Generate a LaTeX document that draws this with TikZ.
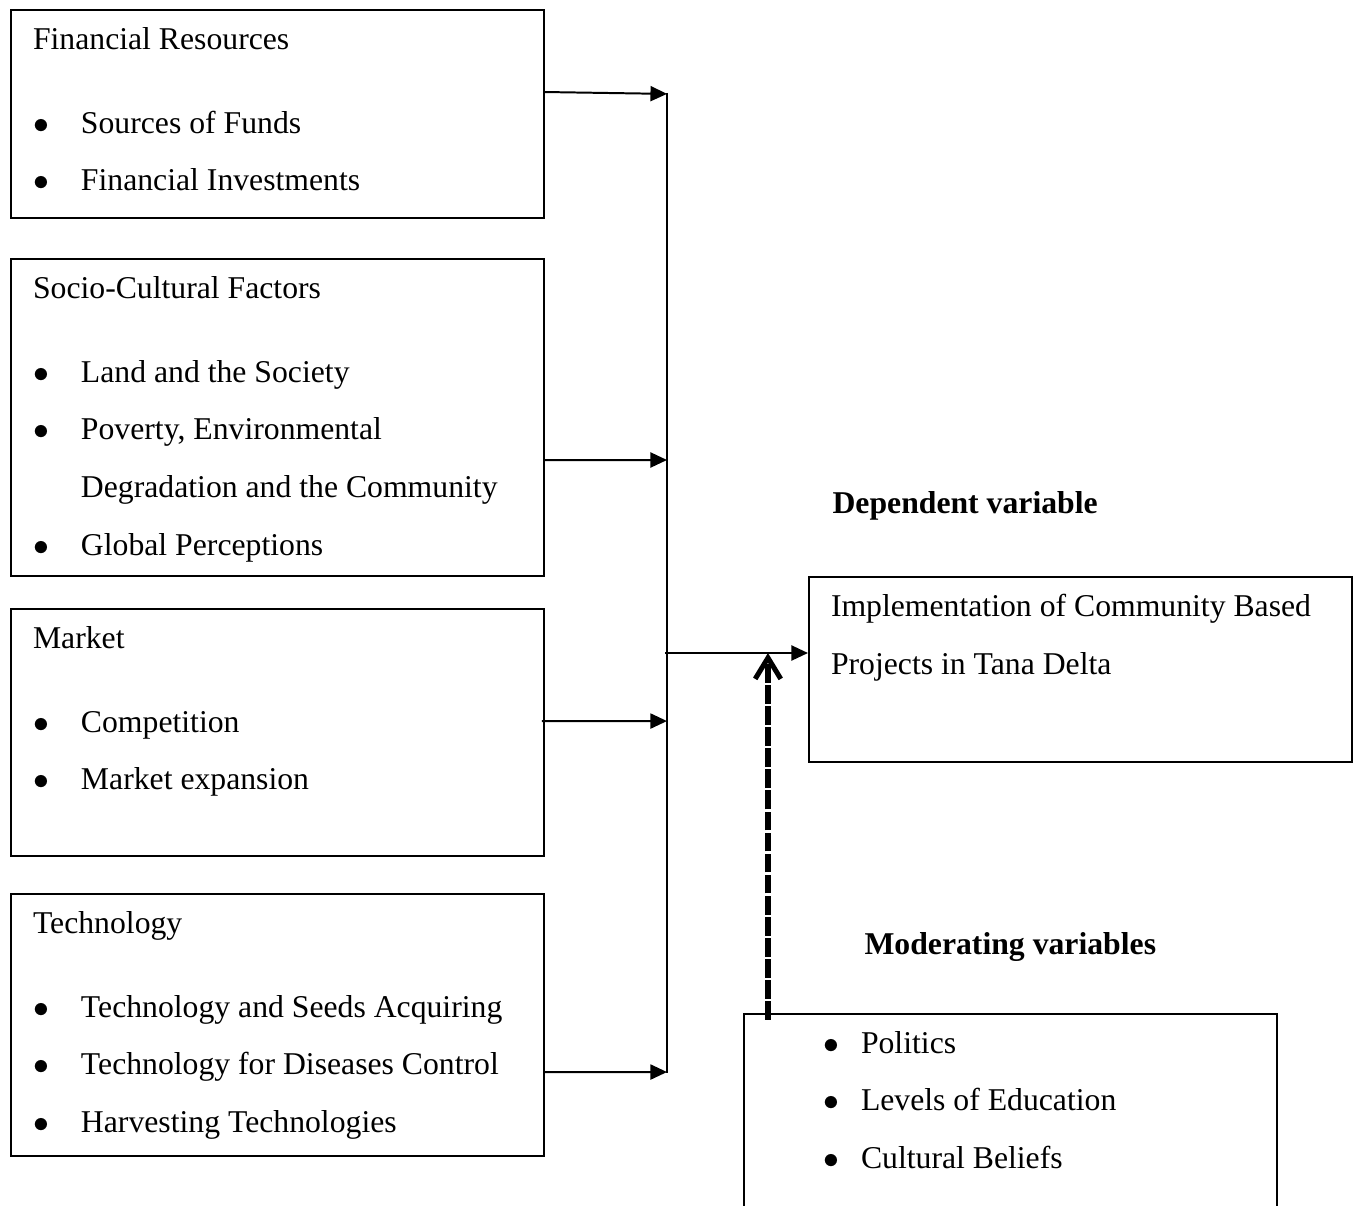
\documentclass[tikz,border=0pt]{standalone}
\usepackage{fontspec}
\setmainfont{Liberation Serif}
\usetikzlibrary{arrows.meta, positioning}
\tikzset{
    arrow/.style={-{Triangle[length=2.2mm,width=2mm]}, line width=0.75pt},
    modarrow/.style={-{Straight Barb[length=2.8mm,width=3.4mm]}, line width=1.9pt, dash pattern=on 2.5mm off 0.3mm},
}
\newcommand{\itm}{\makebox[0.638cm][l]{$\bullet$}}
\newcommand{\mitm}{\hspace*{0.77cm}\makebox[0.493cm][l]{$\bullet$}}
\newcommand{\boxtext}[3]{\parbox[t][#1][t]{#2}{#3}}

\begin{document}
\begin{tikzpicture}[
  varbox/.style={draw,line width=0.75pt,anchor=north west,inner xsep=0.293cm,inner ysep=6.5pt,font=\fontsize{12}{21.8}\selectfont},
  heading/.style={anchor=base west,inner sep=0pt,font=\fontsize{12}{14}\selectfont\bfseries}
]
\useasboundingbox (0,0) rectangle (18.061,16.027);

% Independent variables
\node[varbox] (fin) at (0.133,15.907) {\boxtext{2.308cm}{6.503cm}{Financial Resources\\[10pt]
  \itm Sources of Funds\\
  \itm Financial Investments}};
\node[varbox] (soc) at (0.133,12.595) {\boxtext{3.758cm}{6.503cm}{Socio-Cultural Factors\\[10pt]
  \itm Land and the Society\\
  \itm Poverty, Environmental\\
  \hspace*{0.638cm}Degradation and the Community\\
  \itm Global Perceptions}};
\node[varbox] (mkt) at (0.133,7.940) {\boxtext{2.827cm}{6.503cm}{Market\\[10pt]
  \itm Competition\\
  \itm Market expansion}};
\node[varbox] (tech) at (0.133,4.150) {\boxtext{3.027cm}{6.503cm}{Technology\\[10pt]
  \itm Technology and Seeds Acquiring\\
  \itm Technology for Diseases Control\\
  \itm Harvesting Technologies}};

% Dependent variable
\node[heading] (deplbl) at (11.066,9.204) {Dependent variable};
\node[varbox] (dep) at (10.746,8.366) {\boxtext{2.003cm}{6.636cm}{Implementation of Community Based\\
  Projects in Tana Delta}};

% Moderating variables
\node[heading] (modlbl) at (11.491,3.338) {Moderating variables};
\node[varbox] (mod) at (9.882,2.554) {\boxtext{2.468cm}{6.503cm}{\mitm Politics\\
  \mitm Levels of Education\\
  \mitm Cultural Beliefs}};

% Collecting line
\coordinate (bustop) at (8.871,14.790);
\coordinate (busbot) at (8.871,1.756);
\coordinate (j1) at (8.871,14.778);
\coordinate (j2) at (8.871,9.909);
\coordinate (j3) at (8.871,6.437);
\coordinate (j4) at (8.871,1.769);
\coordinate (jd) at (8.845,7.342);
\draw[line width=0.75pt] (bustop) -- (busbot);

% Connections
\draw[arrow] ([yshift=-1.104cm]fin.north east) -- (j1);
\draw[arrow] ([yshift=-2.687cm]soc.north east) -- (j2);
\draw[arrow] ([xshift=-0.04cm,yshift=-1.503cm]mkt.north east) -- (j3);
\draw[arrow] ([yshift=-2.381cm]tech.north east) -- (j4);
\draw[arrow] (jd) -- (dep.north west |- jd);
\draw[modarrow] ([xshift=0.332cm,yshift=-0.09cm]mod.north west) -- ([xshift=0.332cm]mod.north west |- jd);
\end{tikzpicture}
\end{document}
